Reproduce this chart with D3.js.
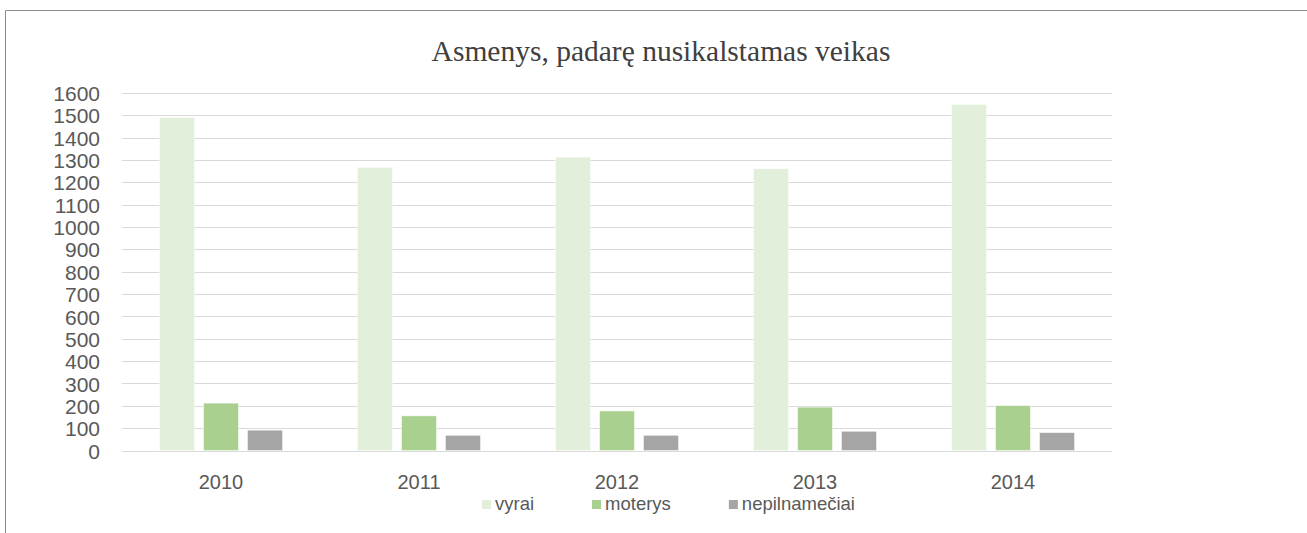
<!DOCTYPE html>
<html>
<head>
<meta charset="utf-8">
<script src="https://cdn.jsdelivr.net/npm/d3@7"></script>
<style>
  html, body { margin: 0; padding: 0; background: #fff; }
  svg { display: block; }
</style>
</head>
<body>
<svg id="chart" width="1307" height="533"></svg>
<script>
const title = "Asmenys, padarę nusikalstamas veikas";
const years = ["2010", "2011", "2012", "2013", "2014"];
const seriesNames = ["vyrai", "moterys", "nepilnamečiai"];
const vyrai = [1491, 1267, 1313, 1261, 1549];
const moterys = [212, 155, 177, 194, 201];
const nepilnameciai = [91, 68, 68, 86, 80];
const yTicks = [0, 100, 200, 300, 400, 500, 600, 700, 800, 900, 1000, 1100, 1200, 1300, 1400, 1500, 1600];
const colors = ["#E2EFDA", "#A9D08E", "#A5A5A5"];

const seriesValues = [vyrai, moterys, nepilnameciai];
const data = years.map((y, i) => ({ year: y, values: seriesNames.map((s, j) => ({ key: s, value: seriesValues[j][i], color: colors[j] })) }));

const svg = d3.select("#chart");

// chart border (top and left visible)
svg.append("line").attr("x1", 5.5).attr("x2", 1307).attr("y1", 10.5).attr("y2", 10.5)
  .attr("stroke", "#8c8c8c").attr("stroke-width", 1);
svg.append("line").attr("x1", 5.5).attr("x2", 5.5).attr("y1", 10.5).attr("y2", 533)
  .attr("stroke", "#8c8c8c").attr("stroke-width", 1);

const plotLeft = 122, plotRight = 1112, plotTop = 93, plotBottom = 450.5;

const y = d3.scaleLinear().domain([0, 1600]).range([plotBottom, plotTop]);
const x0 = d3.scaleBand().domain(years).range([plotLeft, plotRight]).padding(0);
const groupW = 123;
const x1 = d3.scaleBand().domain(seriesNames)
  .range([(x0.bandwidth() - groupW) / 2, (x0.bandwidth() + groupW) / 2])
  .paddingInner(0.2045).paddingOuter(0);

// gridlines
svg.append("g").selectAll("line").data(yTicks).join("line")
  .attr("x1", plotLeft).attr("x2", plotRight)
  .attr("y1", d => Math.round(y(d)) + 0.5).attr("y2", d => Math.round(y(d)) + 0.5)
  .attr("stroke", "#D9D9D9").attr("stroke-width", 1);

// y axis labels
const yAxis = d3.axisLeft(y).tickValues(yTicks).tickSize(0).tickPadding(0).tickFormat(d3.format("d"));
const yg = svg.append("g").attr("transform", `translate(${plotLeft - 22},0)`).call(yAxis);
yg.select(".domain").remove();
yg.selectAll("text").attr("fill", "#595959").style("font-family", "'Liberation Sans', Arial, sans-serif")
  .style("font-size", "21px").attr("dy", "0.36em");

// bars
const groups = svg.append("g").selectAll("g").data(data).join("g")
  .attr("transform", d => `translate(${x0(d.year)},0)`);
groups.selectAll("rect").data(d => d.values).join("rect")
  .attr("x", d => x1(d.key))
  .attr("width", x1.bandwidth())
  .attr("y", d => y(d.value))
  .attr("height", d => y(0) - y(d.value))
  .attr("fill", d => d.color)
  .attr("stroke", "#ffffff").attr("stroke-opacity", 0.6).attr("stroke-width", 0.8);

// x axis labels
const xAxis = d3.axisBottom(x0).tickSize(0).tickPadding(0);
const xg = svg.append("g").attr("transform", `translate(0,${plotBottom})`).call(xAxis);
xg.select(".domain").remove();
xg.selectAll("text").attr("fill", "#595959").attr("y", 38).attr("dy", 0)
  .style("font-family", "'Liberation Sans', Arial, sans-serif").style("font-size", "20px");

// title
svg.append("text").attr("x", 661).attr("y", 61).attr("text-anchor", "middle")
  .attr("fill", "#404040")
  .style("font-family", "'Liberation Serif', 'Times New Roman', serif").style("font-size", "29.5px")
  .text(title);

// legend
const legend = svg.append("g").attr("transform", "translate(482,0)");
let lx = 0;
seriesNames.forEach((s, i) => {
  const g = legend.append("g").attr("transform", `translate(${lx},0)`);
  g.append("rect").attr("x", 0).attr("y", 500).attr("width", 9).attr("height", 9).attr("fill", colors[i]);
  const t = g.append("text").attr("x", 13).attr("y", 510).attr("fill", "#595959")
    .style("font-family", "'Liberation Sans', Arial, sans-serif").style("font-size", "18.5px").text(s);
  lx += 13 + t.node().getComputedTextLength() + 58;
});
</script>
</body>
</html>
